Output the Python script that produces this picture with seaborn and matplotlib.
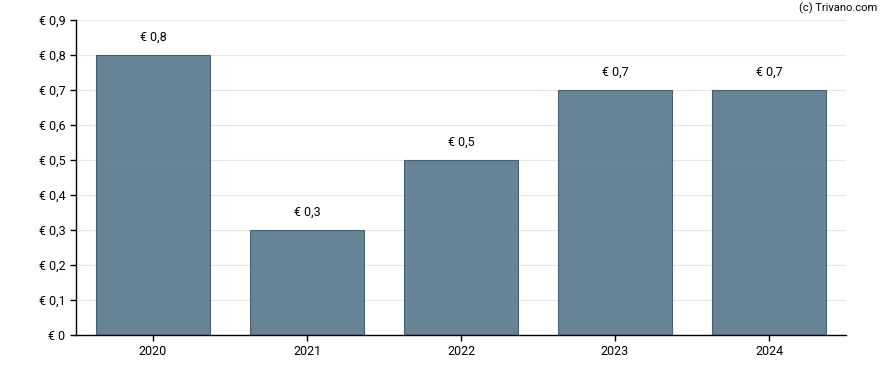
import matplotlib
matplotlib.use("Agg")
import matplotlib.pyplot as plt
import seaborn as sns
import pandas as pd

years = ["2020", "2021", "2022", "2023", "2024"]
values = [0.8, 0.3, 0.5, 0.7, 0.7]
value_labels = ["€ 0,8", "€ 0,3", "€ 0,5", "€ 0,7", "€ 0,7"]
y_ticks = [0.0, 0.1, 0.2, 0.3, 0.4, 0.5, 0.6, 0.7, 0.8, 0.9]
y_tick_labels = ["€ 0", "€ 0,1", "€ 0,2", "€ 0,3", "€ 0,4", "€ 0,5", "€ 0,6", "€ 0,7", "€ 0,8", "€ 0,9"]

sns.set_style("white")
plt.rcParams["font.family"] = ["Roboto", "DejaVu Sans"]

df = pd.DataFrame({"year": years, "value": values})

fig = plt.figure(figsize=(8.88, 3.70), dpi=100)
ax = fig.add_axes([76 / 888, 35 / 370, 770 / 888, 315 / 370])

sns.barplot(data=df, x="year", y="value", ax=ax, color="#5f7c90", width=0.745,
            edgecolor="#3f5a6e", linewidth=0.8, alpha=0.95, saturation=1, zorder=2)

ax.set_xlim(-0.5, 4.5)
ax.set_ylim(0, 0.9)
ax.set_yticks(y_ticks)
ax.set_yticklabels(y_tick_labels)
ax.set_xlabel("")
ax.set_ylabel("")
ax.grid(axis="y", color="#e6e6e6", linewidth=0.8, zorder=0)
ax.set_axisbelow(True)
for s in ["top", "right"]:
    ax.spines[s].set_visible(False)
for s in ["left", "bottom"]:
    ax.spines[s].set_color("black")
    ax.spines[s].set_linewidth(1.0)
ax.tick_params(axis="both", which="both", direction="out", length=4, width=1,
               color="black", labelsize=9, labelcolor="black", left=True, bottom=True)

for i, (v, lab) in enumerate(zip(values, value_labels)):
    ax.annotate(lab, xy=(i, v), xytext=(0, 8), textcoords="offset points",
                ha="center", va="bottom", fontsize=9, color="black")

fig.text(877 / 888, 1 - 8 / 370, "(c) Trivano.com", ha="right", va="center",
         fontsize=8, color="black")

fig.savefig("out.png", dpi=100)
